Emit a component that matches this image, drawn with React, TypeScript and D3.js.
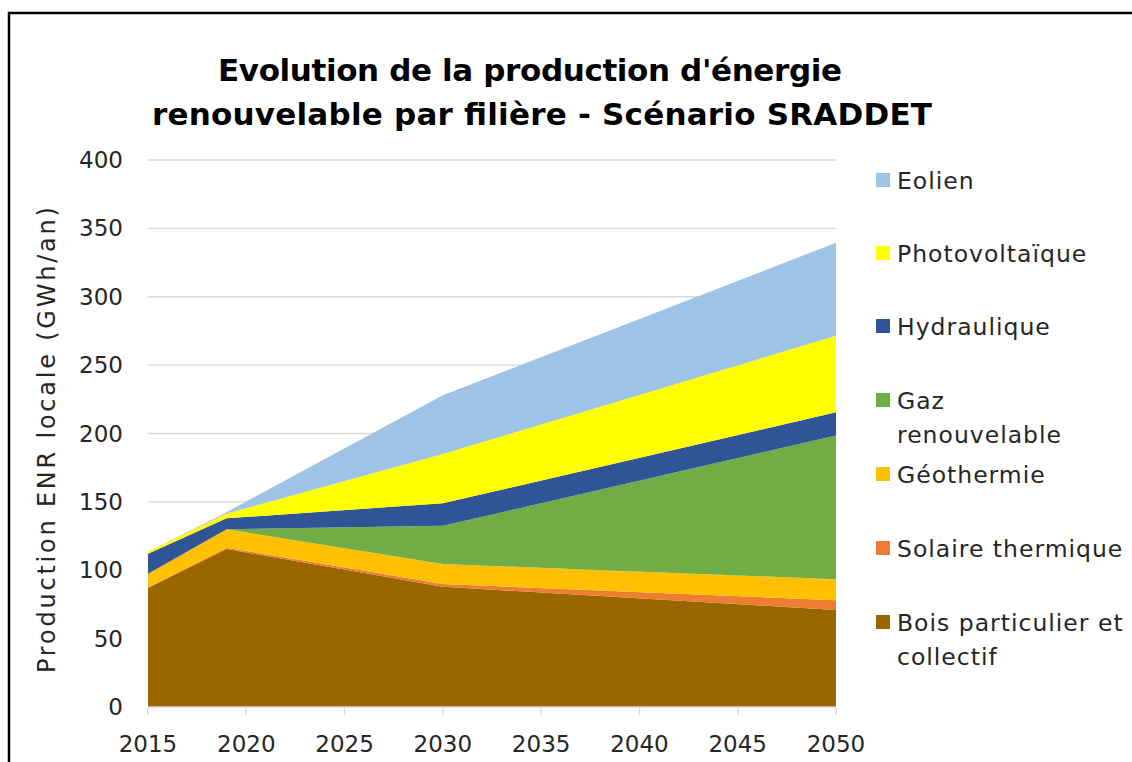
import React, { useRef, useEffect } from "react"
import * as d3 from "d3"

const years = [2015, 2019, 2030, 2050]
const bois = [87, 115.5, 88, 71]
const solaire = [0.5, 1, 2, 7]
const geothermie = [10, 13.5, 14.5, 15.5]
const gaz = [0, 0, 28, 105]
const hydraulique = [14.5, 8, 16.5, 17]
const photovoltaique = [1.5, 3.5, 36, 56]
const eolien = [0, 1, 43, 68]

const seriesNames = ["Bois particulier et collectif", "Solaire thermique", "Géothermie", "Gaz renouvelable", "Hydraulique", "Photovoltaïque", "Eolien"]
const seriesColors = ["#996600", "#ED7D31", "#FFC000", "#70AD47", "#2F5597", "#FFFF00", "#9DC3E6"]
const legendLines = [["Eolien"], ["Photovoltaïque"], ["Hydraulique"], ["Gaz", "renouvelable"], ["Géothermie"], ["Solaire thermique"], ["Bois particulier et", "collectif"]]
const yTicks = [0, 50, 100, 150, 200, 250, 300, 350, 400]
const xTicks = [2015, 2020, 2025, 2030, 2035, 2040, 2045, 2050]

const W = 1132
const H = 762
const FONT = "'DejaVu Sans', sans-serif"

export default function App() {
  const ref = useRef<SVGSVGElement>(null)

  useEffect(() => {
    document.body.style.margin = "0"
    const svg = d3.select(ref.current)
    svg.selectAll("*").remove()

    const margin = { left: 148, right: W - 836, top: 160, bottom: H - 707 }

    // frame
    svg.append("rect")
      .attr("x", 9).attr("y", 13)
      .attr("width", W + 20).attr("height", H + 20)
      .attr("fill", "white").attr("stroke", "#000").attr("stroke-width", 2.5)

    const x = d3.scaleLinear().domain([2015, 2050]).range([margin.left, W - margin.right])
    const y = d3.scaleLinear().domain([0, 400]).range([H - margin.bottom, margin.top])

    // grid
    svg.append("g").selectAll("line")
      .data(yTicks.slice(1))
      .enter().append("line")
      .attr("x1", x(2015)).attr("x2", x(2050))
      .attr("y1", d => y(d)).attr("y2", d => y(d))
      .attr("stroke", "#d9d9d9").attr("stroke-width", 1.3)

    const table = years.map((yr, i) => ({
      year: yr,
      s0: bois[i], s1: solaire[i], s2: geothermie[i], s3: gaz[i],
      s4: hydraulique[i], s5: photovoltaique[i], s6: eolien[i]
    }))
    const keys = ["s0", "s1", "s2", "s3", "s4", "s5", "s6"]
    const stacked = d3.stack<any>().keys(keys)(table)

    const area = d3.area<any>()
      .x(d => x(d.data.year))
      .y0(d => y(d[0]))
      .y1(d => y(d[1]))

    svg.append("g").selectAll("path")
      .data(stacked)
      .enter().append("path")
      .attr("d", area)
      .attr("fill", (d, i) => seriesColors[i])

    // x axis
    const xa = svg.append("g")
    xa.append("line")
      .attr("x1", x(2015)).attr("x2", x(2050))
      .attr("y1", y(0)).attr("y2", y(0))
      .attr("stroke", "#d9d9d9").attr("stroke-width", 1.3)
    xa.selectAll(".tk").data(xTicks).enter().append("line")
      .attr("x1", d => x(d)).attr("x2", d => x(d))
      .attr("y1", y(0)).attr("y2", y(0) + 8)
      .attr("stroke", "#d9d9d9").attr("stroke-width", 1.3)
    xa.selectAll("text").data(xTicks).enter().append("text")
      .attr("x", d => x(d)).attr("y", y(0) + 45)
      .attr("text-anchor", "middle")
      .attr("font-family", FONT).attr("font-size", 23)
      .attr("fill", "#262626")
      .text(d => d)

    // y axis labels
    svg.append("g").selectAll("text").data(yTicks).enter().append("text")
      .attr("x", 123).attr("y", d => y(d) + 8)
      .attr("text-anchor", "end")
      .attr("font-family", FONT).attr("font-size", 23)
      .attr("fill", "#262626")
      .text(d => d)

    svg.append("text")
      .attr("transform", "translate(55," + 440 + ") rotate(-90)")
      .attr("text-anchor", "middle")
      .attr("font-family", FONT).attr("font-size", 24)
      .attr("textLength", 466).attr("lengthAdjust", "spacing")
      .attr("fill", "#262626")
      .text("Production ENR locale (GWh/an)")

    // title
    const title = svg.append("text")
      .attr("text-anchor", "middle")
      .attr("font-family", FONT).attr("font-size", 31).attr("font-weight", "bold")
      .attr("fill", "#000")
    title.append("tspan").attr("x", 530).attr("y", 81).attr("textLength", 624).text("Evolution de la production d'énergie")
    title.append("tspan").attr("x", 542).attr("y", 125).attr("textLength", 780).text("renouvelable par filière - Scénario SRADDET")

    // legend
    const legendY = [180, 253, 326, 400, 474, 548, 622]
    const lg = svg.append("g")
    legendLines.forEach((lines, i) => {
      const color = seriesColors[seriesColors.length - 1 - i]
      lg.append("rect")
        .attr("x", 876).attr("y", legendY[i] - 7)
        .attr("width", 14).attr("height", 14)
        .attr("fill", color)
      lines.forEach((t, j) => {
        lg.append("text")
          .attr("x", 897).attr("y", legendY[i] + 9 + j * 34)
          .attr("font-family", FONT).attr("font-size", 23.5)
          .attr("letter-spacing", 1)
          .attr("fill", "#262626")
          .text(t)
      })
    })
  }, [])

  return <svg ref={ref} width={W} height={H} style={{ display: "block" }}></svg>
}
